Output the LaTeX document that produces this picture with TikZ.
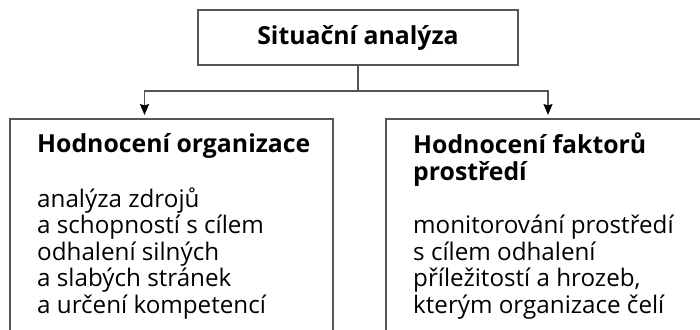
\documentclass[tikz,border=0pt]{standalone}
\usepackage{fontspec}
\setmainfont{Open Sans}
\usetikzlibrary{arrows.meta}
\definecolor{rule}{HTML}{555555}
\tikzset{
  frame/.style={draw=rule, line width=1.3pt, inner sep=0pt, outer sep=0pt},
  head/.style={anchor=base west, inner sep=0pt, font=\fontsize{24.8}{30}\selectfont\bfseries},
  body/.style={anchor=base west, inner sep=0pt, font=\fontsize{24.2}{30}\selectfont},
  link/.style={draw=rule, line width=1.3pt},
  arrowlink/.style={link, -{Stealth[length=11pt,width=9pt,inset=1.5pt,color=black,fill=black]}, shorten >=4pt}
}
\begin{document}
\begin{tikzpicture}[x=1pt, y=-1pt]
\useasboundingbox (0,0) rectangle (700,329);
\clip (0,0) rectangle (700,329);
% top box
\node[frame, minimum width=320pt, minimum height=55pt] (top) at (358,37.5) {};
\node[head, anchor=base] (toptext) at (358,45) {Situační analýza};
% lower boxes, running past the lower and right edges
\node[frame, anchor=north west, minimum width=323pt, minimum height=240pt] (left) at (10,119) {};
\node[frame, anchor=north west, minimum width=340pt, minimum height=240pt] (right) at (386,119) {};
% connectors
\coordinate (j) at (358,91);
\draw[link] (top.south) -- (j);
\draw[arrowlink] (j) -| ([xshift=134.5pt]left.north west);
\draw[arrowlink] (j) -| ([xshift=162pt]right.north west);
% left box text
\node[head] (lh) at (37,152) {Hodnocení organizace};
\node[body] (l1) at (37,207) {analýza zdrojů};
\node[body] (l2) at (37,233.5) {a schopností s cílem};
\node[body] (l3) at (37,260) {odhalení silných};
\node[body] (l4) at (37,286.5) {a slabých stránek};
\node[body] (l5) at (37,313) {a určení kompetencí};
% right box text
\node[head] (rh1) at (413,153) {Hodnocení faktorů};
\node[head] (rh2) at (413,180) {prostředí};
\node[body] (r1) at (413,233) {monitorování prostředí};
\node[body] (r2) at (413,260) {s cílem odhalení};
\node[body] (r3) at (413,286.5) {příležitostí a hrozeb,};
\node[body] (r4) at (413,313) {kterým organizace čelí};
\end{tikzpicture}
\end{document}
